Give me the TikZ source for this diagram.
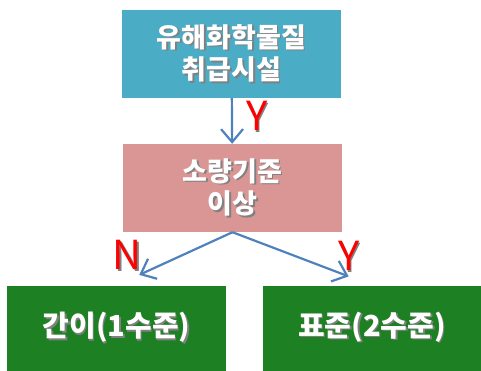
\documentclass[tikz,border=0pt]{standalone}
\usepackage{fontspec}
\setmainfont{Noto Sans CJK KR}
\usetikzlibrary{arrows.meta}
\definecolor{facilityblue}{RGB}{75,172,198}
\definecolor{amountpink}{RGB}{217,150,148}
\definecolor{levelgreen}{RGB}{29,128,34}
\definecolor{arrowblue}{RGB}{79,129,189}
\newcommand\dropshadow[1]{\leavevmode\rlap{\kern1.5pt\raisebox{-1.5pt}{\textcolor{black!50}{#1}}}#1}
\tikzset{
  stagebox/.style={minimum width=219pt,minimum height=88pt,inner sep=0pt,
    text=white,align=center,font=\bfseries\fontsize{27}{32.5}\selectfont},
  levelbox/.style={stagebox,minimum height=85pt,fill=levelgreen,
    font=\bfseries\fontsize{29}{33}\selectfont},
  flow/.style={arrowblue,line width=2.2pt,-{Straight Barb[length=13pt,width=22pt,line width=2.2pt]}},
  answer/.style={text=red,font=\fontsize{40}{40}\selectfont,inner sep=0pt}
}
\begin{document}
\begin{tikzpicture}[x=1pt,y=-1pt]
  \useasboundingbox (0,0) rectangle (481,371);
  \node[stagebox,fill=facilityblue] (facility) at (231.5,54) {\dropshadow{유해화학물질}\\\dropshadow{취급시설}};
  \node[stagebox,fill=amountpink] (amount) at (232.5,188) {\dropshadow{소량기준}\\\dropshadow{이상}};
  \node[levelbox] (simple) at (116.5,328) {\dropshadow{간이(1수준)}};
  \node[levelbox] (standard) at (372,328) {\dropshadow{표준(2수준)}};
  \draw[flow] (facility) -- (amount);
  \draw[flow,shorten >=25pt] (amount.south) -- (simple.north);
  \draw[flow,shorten >=25pt] (amount.south) -- (standard.north);
  \node[answer] (yesamount) at (257,117) {\dropshadow{Y}};
  \node[answer] (nosimple) at (127,256) {\dropshadow{N}};
  \node[answer] (yesstandard) at (349,257) {\dropshadow{Y}};
\end{tikzpicture}
\end{document}
